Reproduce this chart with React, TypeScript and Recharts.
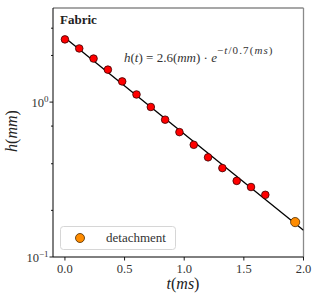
import React from "react";
import {
  ScatterChart,
  Scatter,
  XAxis,
  YAxis,
  ReferenceLine,
  Customized,
} from "recharts";

// measured points (t in ms, h in mm)
const timesMs = [0, 0.12, 0.24, 0.36, 0.48, 0.6, 0.72, 0.84, 0.96, 1.08, 1.2, 1.32, 1.44, 1.56, 1.68];
const heightsMm = [2.54, 2.22, 1.91, 1.62, 1.36, 1.12, 0.93, 0.77, 0.64, 0.53, 0.44, 0.375, 0.31, 0.283, 0.252];

const detachT = [1.93];
const detachH = [0.168];

// end points of the fitted line h(t) = 2.6 e^{-t/0.7}
const fitT = [0, 2.0];
const fitH = [2.6, 0.149];

const xTicks = [0, 0.5, 1, 1.5, 2];
const yTicks = [0.1, 0.2, 0.3, 0.4, 0.5, 0.6, 0.7, 0.8, 0.9, 1, 2, 3];
const xDomain = [-0.1, 2.0];
const yDomain = [0.1, 4.05];

const SERIF = "'Liberation Serif', 'DejaVu Serif', serif";

const points = timesMs.map((t, i) => ({ t, h: heightsMm[i] }));
const detach = detachT.map((t, i) => ({ t, h: detachH[i] }));
const fit = fitT.map((t, i) => ({ t, h: fitH[i] }));

function XTick({ x, y, payload }: any) {
  return (
    <g>
      <line x1={x} x2={x} y1={y} y2={y + 3.5} stroke="#000" strokeWidth={0.9} />
      <text x={x} y={y + 15.5} textAnchor="middle" fontFamily={SERIF} fontSize={12.5} fill="#333">
        {payload.value.toFixed(1)}
      </text>
    </g>
  );
}

function YTick({ x, y, payload }: any) {
  const v = payload.value;
  const major = v === 0.1 || v === 1;
  const len = major ? 3.5 : 2;
  return (
    <g>
      <line x1={x - len} x2={x} y1={y} y2={y} stroke="#000" strokeWidth={0.9} />
      {major && (
        <text x={x - len - 1} y={y + 4.5} textAnchor="end" fontFamily={SERIF} fontSize={12.5} fill="#333">
          10
          <tspan dy={-5} fontSize={9}>
            {v === 1 ? "0" : "\u22121"}
          </tspan>
        </text>
      )}
    </g>
  );
}

function Overlay() {
  return (
    <g fontFamily={SERIF} fill="#222">
      <text x={60} y={23.5} fontSize={13} fontWeight="bold">
        Fabric
      </text>
      <text x={124} y={62} fontSize={13} fill="#333">
        <tspan fontStyle="italic">h</tspan>(<tspan fontStyle="italic">t</tspan>) = 2.6(
        <tspan fontStyle="italic">mm</tspan>) · <tspan fontStyle="italic">e</tspan>
        <tspan dy={-8.5} fontSize={11} letterSpacing={1.1}>
          −<tspan fontStyle="italic">t</tspan>/0.7(<tspan fontStyle="italic">ms</tspan>)
        </tspan>
      </text>
      <text x={183} y={289} textAnchor="middle" fontSize={16}>
        <tspan fontStyle="italic">t</tspan>(<tspan fontStyle="italic">ms</tspan>)
      </text>
      <text
        x={0}
        y={0}
        transform="translate(17 131) rotate(-90)"
        textAnchor="middle"
        fontSize={16}
      >
        <tspan fontStyle="italic">h</tspan>(<tspan fontStyle="italic">mm</tspan>)
      </text>
      <rect x={60.5} y={226.5} width={115} height={23} rx={3} fill="#fff" fillOpacity={0.8} stroke="#d6d6d6" />
      <circle cx={80} cy={238} r={4.5} fill="#ff8c00" stroke="#4a2a00" strokeWidth={0.8} />
      <text x={106} y={242} fontSize={13} fill="#333">
        detachment
      </text>
    </g>
  );
}

export default function App() {
  return (
    <div style={{ position: "absolute", left: 0, top: 0, background: "#fff" }}>
      <ScatterChart width={316} height={298} margin={{ top: 8, right: 12.5, bottom: 0, left: 0 }}>
        <XAxis
          type="number"
          dataKey="t"
          domain={xDomain}
          ticks={xTicks}
          allowDataOverflow
          tickSize={0}
          tickMargin={0}
          tick={<XTick />}
          axisLine={{ stroke: "#000", strokeWidth: 1 }}
          height={41}
        />
        <YAxis
          type="number"
          dataKey="h"
          scale="log"
          domain={yDomain}
          ticks={yTicks}
          allowDataOverflow
          tickSize={0}
          tickMargin={0}
          tick={<YTick />}
          axisLine={{ stroke: "#000", strokeWidth: 1 }}
          width={53}
        />
        <ReferenceLine y={yDomain[1]} stroke="#8a8a8a" strokeWidth={1.3} />
        <ReferenceLine x={xDomain[1]} stroke="#8a8a8a" strokeWidth={1.3} />
        <Scatter
          data={fit}
          line={{ stroke: "#000", strokeWidth: 1.3 }}
          shape={() => <g />}
          isAnimationActive={false}
        />
        <Scatter
          data={points}
          shape={(p: any) => <circle cx={p.cx} cy={p.cy} r={3.8} fill="#ff0000" stroke="#3a0000" strokeWidth={0.8} />}
          isAnimationActive={false}
        />
        <Scatter
          data={detach}
          shape={(p: any) => <circle cx={p.cx} cy={p.cy} r={4.6} fill="#ff8c00" stroke="#4a2a00" strokeWidth={0.8} />}
          isAnimationActive={false}
        />
        <Customized component={Overlay} />
      </ScatterChart>
    </div>
  );
}
